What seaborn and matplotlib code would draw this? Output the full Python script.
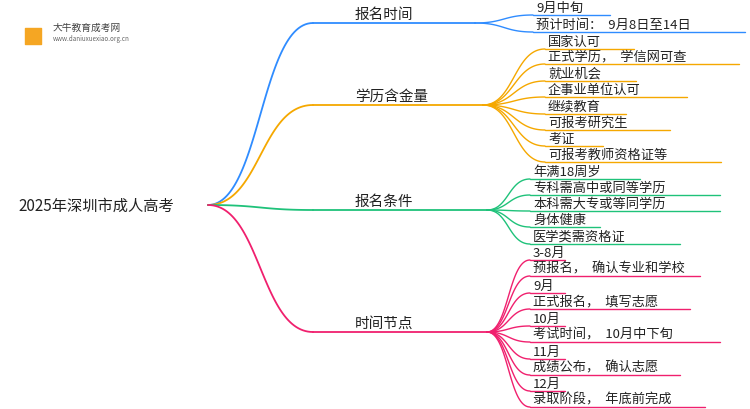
import numpy as np
import seaborn as sns
import matplotlib.pyplot as plt

sns.set_theme(style="white")
plt.rcParams['font.family'] = ['Noto Sans CJK SC', 'DejaVu Sans']

root = "2025年深圳市成人高考"
branches = ["报名时间", "学历含金量", "报名条件", "时间节点"]
colors = ["#2f8cff", "#f5a800", "#1fc27a", "#f0206e"]
leaves = [
    ["9月中旬", "预计时间：  9月8日至14日"],
    ["国家认可", "正式学历，  学信网可查", "就业机会", "企事业单位认可", "继续教育",
     "可报考研究生", "考证", "可报考教师资格证等"],
    ["年满18周岁", "专科需高中或同等学历", "本科需大专或等同学历", "身体健康", "医学类需资格证"],
    ["3-8月", "预报名，  确认专业和学校", "9月", "正式报名，  填写志愿", "10月",
     "考试时间，  10月中下旬", "11月", "成绩公布，  确认志愿", "12月", "录取阶段，  年底前完成"],
]
branch_y = [24, 106, 211, 333]
branch_end = [475, 483, 487, 487]
leaf_y = [
    [16, 33],
    [50, 65, 82, 98, 115, 131, 147, 163],
    [180, 196, 212, 228, 245],
    [261, 277, 294, 310, 327, 343, 360, 376, 392, 408],
]
leaf_x = [533, 545, 530, 530]
leaf_end = [
    [610, 745],
    [634, 739, 636, 687, 626, 670, 603, 721],
    [640, 720, 720, 600, 680],
    [565, 700, 565, 690, 565, 720, 565, 680, 565, 705],
]

fig = plt.figure(figsize=(7.5, 4.1), dpi=100)
ax = fig.add_axes([0, 0, 1, 1])
ax.set_xlim(0, 750)
ax.set_ylim(410, 0)
ax.axis('off')

def curve(x0, y0, x1, y1, c, lw):
    t = np.linspace(0, 1, 60)
    xm = (x0 + x1) / 2
    xs = (1-t)**3*x0 + 3*(1-t)**2*t*xm + 3*(1-t)*t**2*xm + t**3*x1
    ys = (1-t)**3*y0 + 3*(1-t)**2*t*y0 + 3*(1-t)*t**2*y1 + t**3*y1
    sns.lineplot(x=xs, y=ys, ax=ax, color=c, lw=lw, sort=False, estimator=None)

ax.text(18, 206, root, fontsize=11, va='center', color='#222')
for i, b in enumerate(branches):
    c = colors[i]
    by = branch_y[i]
    curve(208, 206, 313, by, c, 1.3)
    sns.lineplot(x=[313, branch_end[i]], y=[by, by], ax=ax, color=c, lw=1.3, estimator=None)
    ax.text(355, by - 2, b, fontsize=10.5, va='bottom', color='#222')
    for j, lf in enumerate(leaves[i]):
        ly = leaf_y[i][j]
        curve(branch_end[i], by, leaf_x[i], ly, c, 1.0)
        sns.lineplot(x=[leaf_x[i], leaf_end[i][j]], y=[ly, ly], ax=ax, color=c, lw=1.0, estimator=None)
        ax.text(leaf_x[i] + 3, ly - 1.5, lf, fontsize=9.5, va='bottom', color='#222')

# logo
ax.scatter([33], [37], s=120, marker='s', color='#f5a623')
ax.text(53, 28, "大牛教育成考网", fontsize=7, va='center', color='#444')
ax.text(53, 39, "www.daniuxuexiao.org.cn", fontsize=4.5, va='center', color='#666')

fig.savefig("out.png", dpi=100)
